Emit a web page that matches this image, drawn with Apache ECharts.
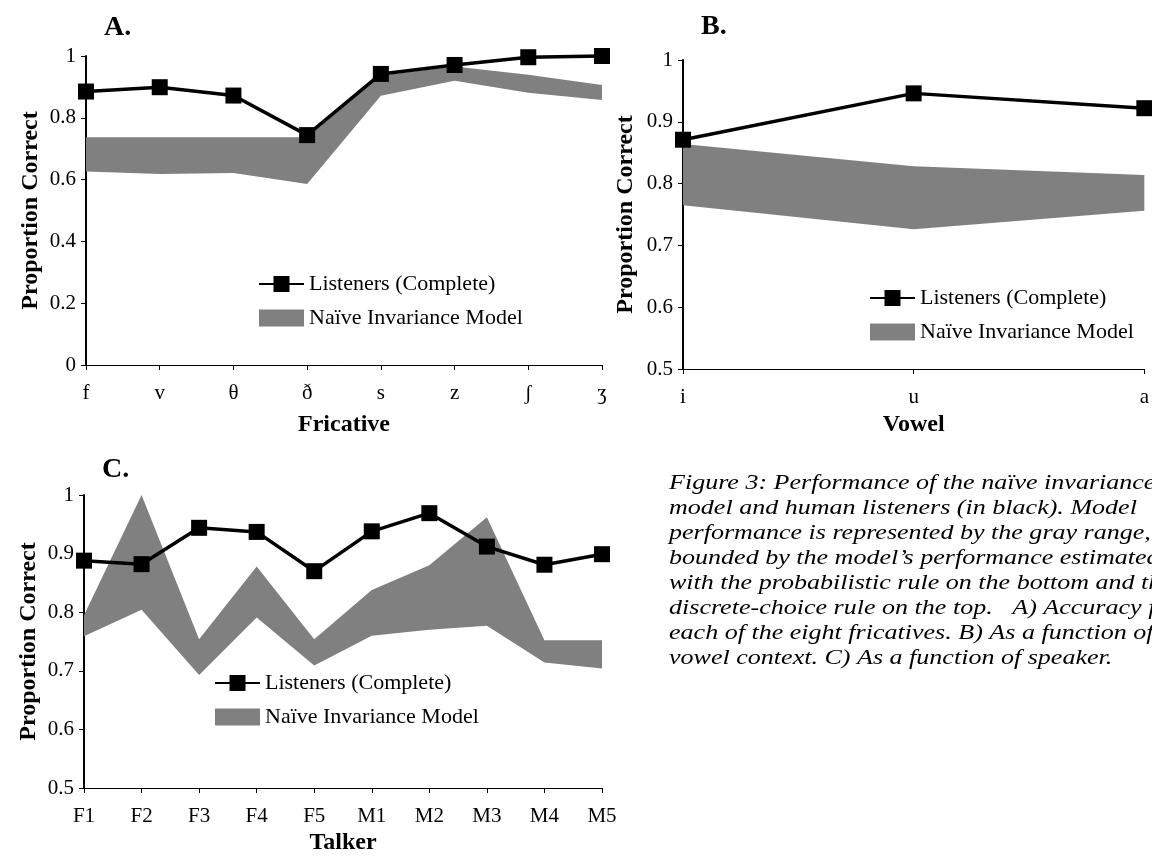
<!DOCTYPE html>
<html>
<head>
<meta charset="utf-8">
<script src="https://cdn.jsdelivr.net/npm/echarts@6/dist/echarts.min.js"></script>
<style>
  html, body { margin: 0; padding: 0; background: #fff; }
  #chart { width: 1152px; height: 856px; }
</style>
</head>
<body>
<div id="chart"></div>
<script>
// Panel A: accuracy by fricative
const fricatives = ['f', 'v', 'θ', 'ð', 's', 'z', 'ʃ', 'ʒ'];
const fricListeners = [0.885, 0.899, 0.872, 0.744, 0.942, 0.971, 0.996, 1.0];
const fricModelLow  = [0.626, 0.618, 0.621, 0.586, 0.871, 0.920, 0.881, 0.858];
const fricModelHigh = [0.737, 0.737, 0.737, 0.737, 0.937, 0.966, 0.939, 0.906];

// Panel B: accuracy by vowel context
const vowels = ['i', 'u', 'a'];
const vowelListeners = [0.871, 0.946, 0.922];
const vowelModelLow  = [0.765, 0.726, 0.756];
const vowelModelHigh = [0.864, 0.828, 0.814];

// Panel C: accuracy by talker
const talkers = ['F1', 'F2', 'F3', 'F4', 'F5', 'M1', 'M2', 'M3', 'M4', 'M5'];
const talkerListeners = [0.888, 0.882, 0.944, 0.937, 0.870, 0.938, 0.969, 0.912, 0.881, 0.899];
const talkerModelLow  = [0.759, 0.804, 0.693, 0.791, 0.709, 0.760, 0.770, 0.777, 0.714, 0.704];
const talkerModelHigh = [0.795, 1.000, 0.754, 0.878, 0.754, 0.838, 0.880, 0.962, 0.752, 0.752];

const panelTitles = ['A.', 'B.', 'C.'];
const axisNames = ['Fricative', 'Vowel', 'Talker'];
const yAxisName = 'Proportion Correct';
const listenerName = 'Listeners (Complete)';
const modelName = 'Naïve Invariance Model';
const captionLines = [
  'Figure 3: Performance of the naïve invariance',
  'model and human listeners (in black). Model',
  'performance is represented by the gray range,',
  'bounded by the model’s performance estimated',
  'with the probabilistic rule on the bottom and the',
  'discrete-choice rule on the top.   A) Accuracy for',
  'each of the eight fricatives. B) As a function of',
  'vowel context. C) As a function of speaker.'
];

const SERIF = '"Liberation Serif", "Times New Roman", "DejaVu Serif", serif';
const GRAY = '#808080';
// legend swatch: a 45x17 block centred in the 45x20 legend cell
const SWATCH = 'path://M0,0M0,1.5L45,1.5L45,18.5L0,18.5ZM45,20';

const panels = [
  { cats: fricatives, listeners: fricListeners, low: fricModelLow, high: fricModelHigh,
    grid: { left: 86, top: 56, width: 516, height: 309 },
    y: { min: 0, max: 1, interval: 0.2 }, nameGap: 48, yNameGap: 43, labelMargin: 18,
    legend: { left: 258, top: 273 }, title: { x: 104, y: 28 } },
  { cats: vowels, listeners: vowelListeners, low: vowelModelLow, high: vowelModelHigh,
    grid: { left: 683, top: 60, width: 462, height: 309 },
    y: { min: 0.5, max: 1, interval: 0.1 }, nameGap: 44, yNameGap: 45, labelMargin: 18,
    legend: { left: 869, top: 287 }, title: { x: 701, y: 27 } },
  { cats: talkers, listeners: talkerListeners, low: talkerModelLow, high: talkerModelHigh,
    grid: { left: 84, top: 495, width: 518, height: 298 },
    y: { min: 0.5, max: 1, interval: 0.1 }, nameGap: 43, yNameGap: 43, labelMargin: 18,
    legend: { left: 214, top: 672 }, title: { x: 102, y: 470 } }
];

const grids = [], xAxes = [], yAxes = [], series = [], legends = [], graphics = [];

panels.forEach((p, i) => {
  grids.push(Object.assign({ containLabel: false }, p.grid));
  xAxes.push({
    type: 'category', gridIndex: i, data: p.cats, boundaryGap: false,
    name: axisNames[i], nameLocation: 'middle', nameGap: p.nameGap,
    nameTextStyle: { fontFamily: SERIF, fontWeight: 'bold', fontSize: 24, color: '#000' },
    axisLine: { show: true, lineStyle: { color: '#000', width: 1 } },
    axisTick: { show: true, length: 5, lineStyle: { color: '#000', width: 1 } },
    axisLabel: { fontFamily: SERIF, fontSize: 21, color: '#000', margin: p.labelMargin, interval: 0 },
    splitLine: { show: false }
  });
  yAxes.push({
    type: 'value', gridIndex: i, min: p.y.min, max: p.y.max, interval: p.y.interval,
    name: yAxisName, nameLocation: 'middle', nameRotate: 90, nameGap: p.yNameGap,
    nameTextStyle: { fontFamily: SERIF, fontWeight: 'bold', fontSize: 24, color: '#000' },
    axisLine: { show: true, lineStyle: { color: '#000', width: 2 } },
    axisTick: { show: true, length: 5, lineStyle: { color: '#000', width: 1 } },
    axisLabel: { fontFamily: SERIF, fontSize: 21, color: '#000', margin: 10 },
    splitLine: { show: false }
  });

  const bandWidth = p.high.map((h, k) => +(h - p.low[k]).toFixed(4));
  // lower edge of the model range (invisible stack base)
  series.push({
    type: 'line', name: 'model lower bound', xAxisIndex: i, yAxisIndex: i,
    data: p.low, stack: 'band' + i, symbol: 'none', silent: true,
    lineStyle: { opacity: 0, width: 0 }, z: 1
  });
  // filled range up to the discrete-choice estimate
  series.push({
    type: 'line', name: modelName, xAxisIndex: i, yAxisIndex: i,
    data: bandWidth, stack: 'band' + i, symbol: 'none', silent: true,
    itemStyle: { color: GRAY },
    lineStyle: { opacity: 0, width: 0 },
    areaStyle: { color: GRAY, opacity: 1 }, z: 1
  });
  series.push({
    type: 'line', name: listenerName, xAxisIndex: i, yAxisIndex: i,
    data: p.listeners, symbol: 'rect', symbolSize: 16, clip: false,
    itemStyle: { color: '#000' },
    lineStyle: { color: '#000', width: 3.5 }, z: 3
  });

  legends.push({
    orient: 'vertical', left: p.legend.left, top: p.legend.top, padding: 0,
    itemWidth: 45, itemHeight: 20, itemGap: 12, selectedMode: false,
    data: [{ name: listenerName }, { name: modelName, icon: SWATCH }],
    textStyle: { fontFamily: SERIF, fontSize: 22, color: '#000', lineHeight: 22 }
  });

  graphics.push({
    type: 'text', x: p.title.x, y: p.title.y,
    style: { text: panelTitles[i], font: 'bold 28px ' + SERIF, fill: '#000', verticalAlign: 'middle' }
  });
});

graphics.push({
  type: 'text', x: 669, y: 471, scaleX: 1.24,
  style: {
    text: captionLines.join('\n'), font: 'italic 21px ' + SERIF, fill: '#000',
    lineHeight: 25, verticalAlign: 'top'
  }
});

const chart = echarts.init(document.getElementById('chart'), null, { renderer: 'canvas' });
chart.setOption({
  animation: false,
  backgroundColor: '#fff',
  grid: grids,
  xAxis: xAxes,
  yAxis: yAxes,
  legend: legends,
  series: series,
  graphic: graphics
});
</script>
</body>
</html>
